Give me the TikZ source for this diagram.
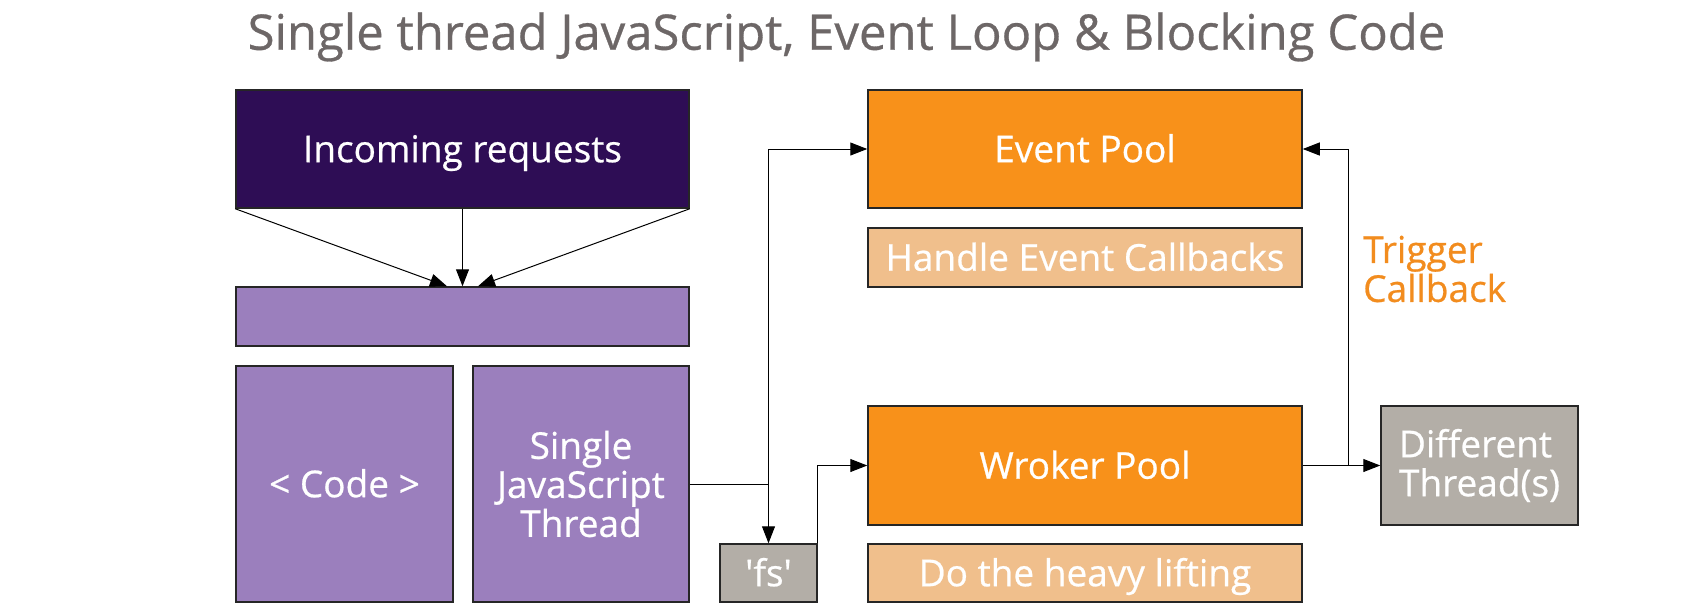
\documentclass[tikz,border=0pt]{standalone}
\usepackage{fontspec}
\setmainfont{Open Sans}[FakeBold=0.6]
\usetikzlibrary{arrows.meta}
\definecolor{titlegray}{HTML}{6D6767}
\definecolor{darkpurple}{HTML}{2E0D55}
\definecolor{lightpurple}{HTML}{9B7FBD}
\definecolor{poolorange}{HTML}{F8911A}
\definecolor{paleorange}{HTML}{F0BF8C}
\definecolor{stonegray}{HTML}{B3AEA7}
\definecolor{labelorange}{HTML}{F28C1E}
\begin{document}
\begin{tikzpicture}[x=1pt,y=-1pt,
  box/.style={draw=black!85, line width=1.5pt, rectangle, inner sep=0pt, text=white,
    font=\fontsize{37}{39}\selectfont, align=center},
  oneline/.style={text height=26.4pt, text depth=0pt},
  conn/.style={line width=1pt, draw=black, -{Triangle[length=17pt,width=13pt]}},
  plainline/.style={line width=1pt, draw=black}]
\useasboundingbox (0,0) rectangle (1697,606);
\fill[white] (0,0) rectangle (1697,606);

\node[text=titlegray, font=\fontsize{49}{58}\selectfont, inner sep=0pt] (title) at (846.5,37) {Single thread JavaScript, Event Loop \& Blocking Code};

\node[box, oneline, fill=darkpurple, minimum width=453pt, minimum height=118pt] (inc) at (462.5,149) {Incoming requests};
\node[box, fill=lightpurple, minimum width=453pt, minimum height=59pt] (bar) at (462.5,316.5) {};
\node[box, oneline, fill=lightpurple, minimum width=217pt, minimum height=236pt] (code) at (344.5,484) {< Code >};
\node[box, fill=lightpurple, minimum width=216pt, minimum height=236pt] (single) at (581,484) {Single\\JavaScript\\Thread};
\node[box, oneline, fill=stonegray, minimum width=97pt, minimum height=58pt] (fs) at (768.5,573) {\textquotesingle fs\textquotesingle};
\node[box, oneline, fill=poolorange, minimum width=434pt, minimum height=118pt] (event) at (1085,149) {Event Pool};
\node[box, oneline, fill=paleorange, minimum width=434pt, minimum height=59pt] (handle) at (1085,257.5) {Handle Event Callbacks};
\node[box, oneline, fill=poolorange, minimum width=434pt, minimum height=119pt] (wroker) at (1085,465.5) {Wroker Pool};
\node[box, oneline, fill=paleorange, minimum width=434pt, minimum height=58pt] (heavy) at (1085,573) {Do the heavy lifting};
\node[box, fill=stonegray, minimum width=197pt, minimum height=119pt, align=left] (diff) at (1479.5,465.5) {Different\\Thread(s)};

\node[text=labelorange, font=\fontsize{37}{39}\selectfont, align=left, anchor=west, inner sep=0pt] (trig) at (1363,269) {Trigger\\Callback};

\coordinate (j) at (768.5,484);
\coordinate (t) at (1348,465.5);

\draw[conn] (inc.south west) -- ([xshift=-15.5pt]bar.north);
\draw[conn] (inc.south) -- (bar.north);
\draw[conn] (inc.south east) -- ([xshift=15.5pt]bar.north);

\draw[plainline] (single.east) -- (j);
\draw[conn] (j) |- (event.west);
\draw[conn] (j) -- (fs.north);
\draw[conn] (fs.north east) |- (wroker.west);
\draw[conn] (wroker.east) -- (diff.west);
\draw[conn] (t) |- (event.east);
\end{tikzpicture}
\end{document}
